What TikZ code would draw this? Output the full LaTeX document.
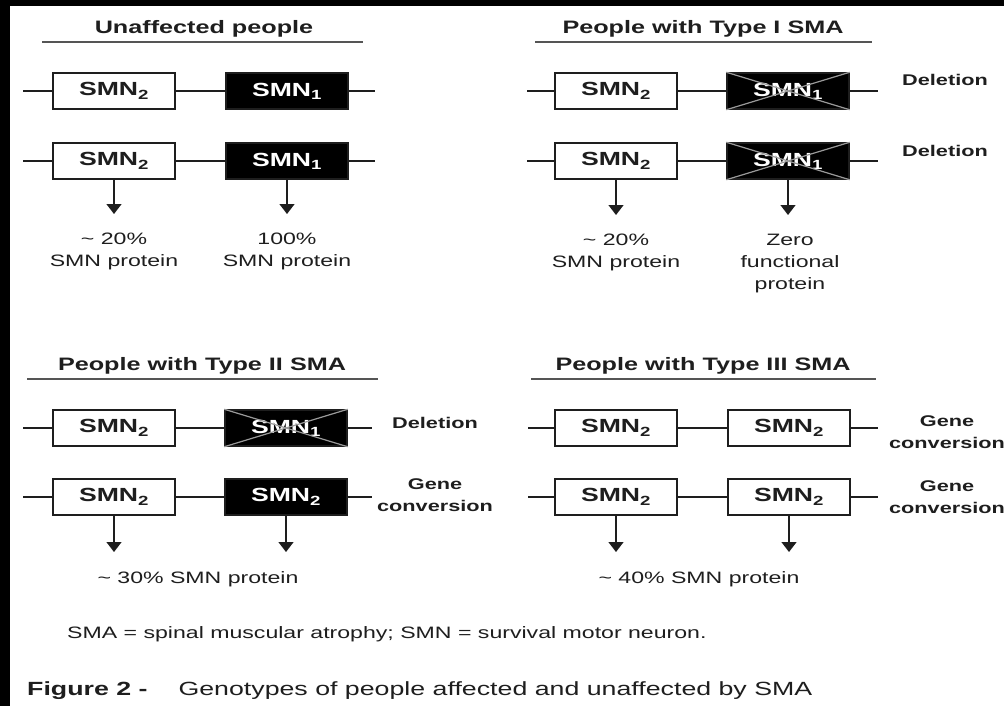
\documentclass[tikz,border=0pt]{standalone}
\usepackage{fontspec}
\setmainfont{Liberation Sans}[FakeStretch=1.4]
\usetikzlibrary{arrows.meta}
\definecolor{ink}{HTML}{1E1E1E}
\definecolor{rulec}{HTML}{555555}
\definecolor{crossc}{HTML}{9A9A9A}
\tikzset{
 gene/.style={draw=ink, line width=1.5pt, minimum width=122pt, minimum height=36pt, inner sep=0pt,
   font=\fontsize{19}{21}\selectfont\bfseries, text=ink},
 genedark/.style={gene, fill=black, text=white},
 link/.style={draw=ink, line width=1.5pt},
 expr/.style={draw=ink, line width=1.3pt, -{Triangle[width=15pt,length=10pt]}},
 ttl/.style={font=\fontsize{18}{20}\selectfont\bfseries, text=ink, anchor=base, inner sep=0pt},
 uline/.style={draw=rulec, line width=1.5pt},
 lbl/.style={font=\fontsize{16.5}{22}\selectfont, text=ink, align=center, anchor=north, inner sep=0pt},
 note/.style={font=\fontsize{15.5}{22}\selectfont\bfseries, text=ink, align=center, inner sep=0pt},
 crossed/.style={draw=crossc, line width=1.2pt},
}
\begin{document}
\begin{tikzpicture}[x=1pt,y=-1pt]
\useasboundingbox (0,0) rectangle (1004,706);
\fill[white] (0,0) rectangle (1004,706);
\fill[black] (0,0) rectangle (1004,6);
\fill[black] (0,0) rectangle (10,706);

% ---------- Panel A: Unaffected people ----------
\node[ttl] (tA) at (204,34) {Unaffected people};
\coordinate (uA1) at (42,42); \coordinate (uA2) at (363,42);
\draw[uline] (uA1) -- (uA2);

\node[gene] (a11) at (114,91) {SMN\textsubscript{2}};
\node[genedark] (a12) at (287,91) {SMN\textsubscript{1}};
\coordinate (a1l) at (23,91); \coordinate (a1r) at (375,91);
\draw[link] (a1l) -- (a11.west) (a11.east) -- (a12.west) (a12.east) -- (a1r);

\node[gene] (a21) at (114,161) {SMN\textsubscript{2}};
\node[genedark] (a22) at (287,161) {SMN\textsubscript{1}};
\coordinate (a2l) at (23,161); \coordinate (a2r) at (375,161);
\draw[link] (a2l) -- (a21.west) (a21.east) -- (a22.west) (a22.east) -- (a2r);

\coordinate (a21t) at (114,214); \coordinate (a22t) at (287,214);
\draw[expr] (a21.south) -- (a21t);
\draw[expr] (a22.south) -- (a22t);
\node[lbl] (a21p) at (114,233) {\textasciitilde\ 20\%\\SMN protein};
\node[lbl] (a22p) at (287,233) {100\%\\SMN protein};

% ---------- Panel B: Type I ----------
\node[ttl] (tB) at (703,34) {People with Type I SMA};
\coordinate (uB1) at (535,42); \coordinate (uB2) at (872,42);
\draw[uline] (uB1) -- (uB2);

\node[gene] (b11) at (616,91) {SMN\textsubscript{2}};
\node[genedark] (b12) at (788,91) {SMN\textsubscript{1}};
\draw[crossed] (b12.north west) -- (b12.south east) (b12.south west) -- (b12.north east);
\coordinate (b1l) at (527,91); \coordinate (b1r) at (878,91);
\draw[link] (b1l) -- (b11.west) (b11.east) -- (b12.west) (b12.east) -- (b1r);
\node[note] (b1n) at (945,80) {Deletion};

\node[gene] (b21) at (616,161) {SMN\textsubscript{2}};
\node[genedark] (b22) at (788,161) {SMN\textsubscript{1}};
\draw[crossed] (b22.north west) -- (b22.south east) (b22.south west) -- (b22.north east);
\coordinate (b2l) at (527,161); \coordinate (b2r) at (878,161);
\draw[link] (b2l) -- (b21.west) (b21.east) -- (b22.west) (b22.east) -- (b2r);
\node[note] (b2n) at (945,151) {Deletion};

\coordinate (b21t) at (616,215); \coordinate (b22t) at (788,215);
\draw[expr] (b21.south) -- (b21t);
\draw[expr] (b22.south) -- (b22t);
\node[lbl] (b21p) at (616,234) {\textasciitilde\ 20\%\\SMN protein};
\node[lbl] (b22p) at (790,234) {Zero\\functional\\protein};

% ---------- Panel C: Type II ----------
\node[ttl] (tC) at (202,370) {People with Type II SMA};
\coordinate (uC1) at (27,379); \coordinate (uC2) at (378,379);
\draw[uline] (uC1) -- (uC2);

\node[gene] (c11) at (114,428) {SMN\textsubscript{2}};
\node[genedark] (c12) at (286,428) {SMN\textsubscript{1}};
\draw[crossed] (c12.north west) -- (c12.south east) (c12.south west) -- (c12.north east);
\coordinate (c1l) at (23,428); \coordinate (c1r) at (372,428);
\draw[link] (c1l) -- (c11.west) (c11.east) -- (c12.west) (c12.east) -- (c1r);
\node[note] (c1n) at (435,423) {Deletion};

\node[gene] (c21) at (114,497) {SMN\textsubscript{2}};
\node[genedark] (c22) at (286,497) {SMN\textsubscript{2}};
\coordinate (c2l) at (23,497); \coordinate (c2r) at (372,497);
\draw[link] (c2l) -- (c21.west) (c21.east) -- (c22.west) (c22.east) -- (c2r);
\node[note] (c2n) at (435,495) {Gene\\conversion};

\coordinate (c21t) at (114,552); \coordinate (c22t) at (286,552);
\draw[expr] (c21.south) -- (c21t);
\draw[expr] (c22.south) -- (c22t);
\node[lbl] (c2p) at (198,571) {\textasciitilde\ 30\% SMN protein};

% ---------- Panel D: Type III ----------
\node[ttl] (tD) at (703,370) {People with Type III SMA};
\coordinate (uD1) at (531,379); \coordinate (uD2) at (876,379);
\draw[uline] (uD1) -- (uD2);

\node[gene] (d11) at (616,428) {SMN\textsubscript{2}};
\node[gene] (d12) at (789,428) {SMN\textsubscript{2}};
\coordinate (d1l) at (528,428); \coordinate (d1r) at (878,428);
\draw[link] (d1l) -- (d11.west) (d11.east) -- (d12.west) (d12.east) -- (d1r);
\node[note] (d1n) at (947,432) {Gene\\conversion};

\node[gene] (d21) at (616,497) {SMN\textsubscript{2}};
\node[gene] (d22) at (789,497) {SMN\textsubscript{2}};
\coordinate (d2l) at (528,497); \coordinate (d2r) at (878,497);
\draw[link] (d2l) -- (d21.west) (d21.east) -- (d22.west) (d22.east) -- (d2r);
\node[note] (d2n) at (947,497) {Gene\\conversion};

\coordinate (d21t) at (616,552); \coordinate (d22t) at (789,552);
\draw[expr] (d21.south) -- (d21t);
\draw[expr] (d22.south) -- (d22t);
\node[lbl] (d2p) at (699,571) {\textasciitilde\ 40\% SMN protein};

% ---------- Footnote and caption ----------
\node[anchor=base west, inner sep=0pt, text=ink, font=\fontsize{16.5}{20}\selectfont] (fn) at (67,638)
  {SMA = spinal muscular atrophy; SMN = survival motor neuron.};
\node[anchor=base west, inner sep=0pt, text=ink, font=\fontsize{19.1}{22}\selectfont] (cap) at (27,695)
  {\textbf{Figure 2 -}\hspace{31pt}Genotypes of people affected and unaffected by SMA};
\end{tikzpicture}
\end{document}
